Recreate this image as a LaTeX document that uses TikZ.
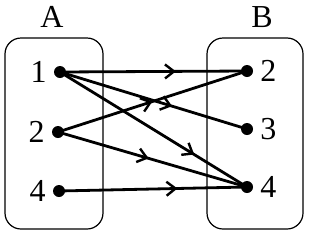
\documentclass[tikz,border=0pt]{standalone}
\usepackage{fontspec}
\setmainfont{Liberation Serif}
\usetikzlibrary{decorations.markings,arrows.meta}
\pgfkeys{tikz/setbox/.style={draw,line width=0.6pt,rounded corners=8pt}}
\pgfkeys{tikz/elem/.style={circle,fill=black,inner sep=0pt,minimum size=6pt,label distance=0pt,label={[font=\fontsize{16}{18}\selectfont]#1}}}
\pgfkeys{tikz/maparrow/.style={line width=1.4pt,postaction={decorate},decoration={markings,mark=at position #1 with {\arrow{Straight Barb[length=4.5pt,width=7pt,line width=1.2pt]}}}}}
\newcommand*\mapto[3]{\draw [maparrow=#3] (#1.center) -- (#2.center);}

\begin{document}
\begin{tikzpicture}[x=0.5pt,y=-0.5pt]
\useasboundingbox (0,0) rectangle (310,236);

% the two sets
\draw [setbox] (5,38) rectangle (103,229);
\draw [setbox] (207,38) rectangle (303,229);
\node (nameA) at (52,17) {\fontsize{16}{18}\selectfont A};
\node (nameB) at (262,17) {\fontsize{16}{18}\selectfont B};

% elements
\coordinate (a1) at (60,72);
\coordinate (a2) at (58,132);
\coordinate (a4) at (59,191);
\coordinate (b2) at (247,71);
\coordinate (b3) at (247,129);
\coordinate (b4) at (247,187);

% mapping
\mapto{a1}{b2}{0.62}
\mapto{a1}{b3}{0.6}
\mapto{a1}{b4}{0.72}
\mapto{a2}{b2}{0.5}
\mapto{a2}{b4}{0.48}
\mapto{a4}{b4}{0.63}

\foreach \p/\t in {a1/1, a2/2, a4/4} {
  \node [elem=left:\t] (dot-\p) at (\p) {};
}
\foreach \p/\t in {b2/2, b3/3, b4/4} {
  \node [elem=right:\t] (dot-\p) at (\p) {};
}

\end{tikzpicture}
\end{document}
